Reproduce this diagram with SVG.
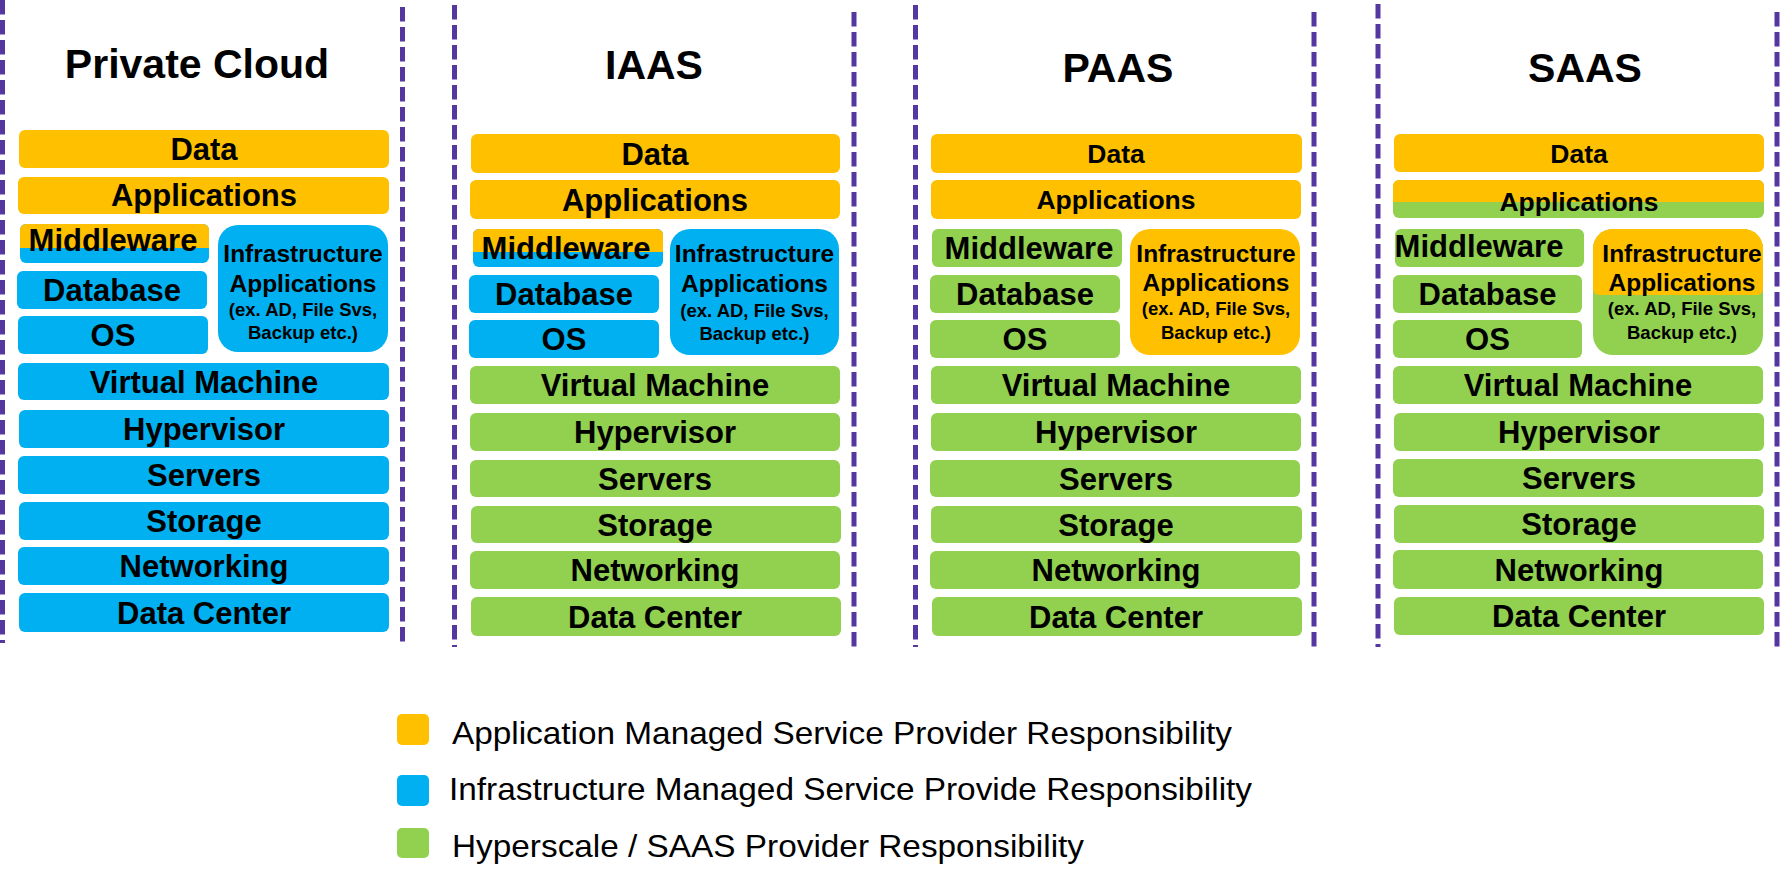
<svg xmlns="http://www.w3.org/2000/svg" width="1786" height="888" viewBox="0 0 1786 888">
<style>
.t{font-family:"Liberation Sans",Arial,sans-serif;font-weight:bold;fill:#000;text-anchor:middle}
.h{font-size:41px}
.l{font-size:31px}
.s{font-size:26.5px}
.i{font-size:24.5px}
.e{font-size:18.5px}
.lg{font-family:"Liberation Sans",Arial,sans-serif;font-size:32px;fill:#000}
.o{fill:#FFC000}
.b{fill:#00B0F0}
.g{fill:#92D050}
.sep{stroke:#5537A0;stroke-width:5;stroke-dasharray:14.5 5.5;fill:none}
</style>
<defs>
<clipPath id="cMwP"><rect x="20" y="224" width="189" height="39" rx="6"/></clipPath>
<clipPath id="cMwI"><rect x="473" y="229" width="190" height="38" rx="6"/></clipPath>
<clipPath id="cApS"><rect x="1393" y="180" width="371" height="38" rx="6"/></clipPath>
<clipPath id="cInS"><rect x="1593" y="229" width="170" height="126" rx="20"/></clipPath>
</defs>
<rect width="1786" height="888" fill="#fff"/>

<g id="separators">
<line class="sep" x1="2.5" y1="0" x2="2.5" y2="643"/>
<line class="sep" x1="402.5" y1="7" x2="402.5" y2="642"/>
<line class="sep" x1="454.5" y1="5" x2="454.5" y2="647"/>
<line class="sep" x1="854" y1="12" x2="854" y2="647"/>
<line class="sep" x1="915.5" y1="5" x2="915.5" y2="647"/>
<line class="sep" x1="1314" y1="12" x2="1314" y2="647"/>
<line class="sep" x1="1378" y1="4" x2="1378" y2="647"/>
<line class="sep" x1="1777" y1="12" x2="1777" y2="647"/>
</g>

<!-- Private Cloud -->
<g id="private-cloud">
<text class="t h" x="197" y="78">Private Cloud</text>
<g id="p-data"><rect class="o" x="19" y="130" width="370" height="38" rx="6"/><text class="t l" x="204" y="160">Data</text></g>
<g id="p-applications"><rect class="o" x="18" y="177" width="371" height="37" rx="6"/><text class="t l" x="204" y="206">Applications</text></g>
<g id="p-middleware"><g clip-path="url(#cMwP)"><rect class="b" x="20" y="224" width="189" height="39"/><rect class="o" x="20" y="224" width="189" height="24"/></g><text class="t l" x="113" y="251">Middleware</text></g>
<g id="p-database"><rect class="b" x="17" y="271" width="190" height="38" rx="6"/><text class="t l" x="112" y="301">Database</text></g>
<g id="p-os"><rect class="b" x="18" y="316" width="190" height="38" rx="6"/><text class="t l" x="113" y="346">OS</text></g>
<g id="p-infra"><rect class="b" x="218" y="225" width="170" height="127" rx="20"/>
<text class="t i" x="303" y="262">Infrastructure</text><text class="t i" x="303" y="292">Applications</text><text class="t e" x="303" y="316">(ex. AD, File Svs,</text><text class="t e" x="303" y="339">Backup etc.)</text></g>
<g id="p-vm"><rect class="b" x="18" y="363" width="371" height="37" rx="6"/><text class="t l" x="204" y="392.5">Virtual Machine</text></g>
<g id="p-hypervisor"><rect class="b" x="19" y="410" width="370" height="38" rx="6"/><text class="t l" x="204" y="440">Hypervisor</text></g>
<g id="p-servers"><rect class="b" x="18" y="456" width="371" height="38" rx="6"/><text class="t l" x="204" y="486">Servers</text></g>
<g id="p-storage"><rect class="b" x="19" y="502" width="370" height="38" rx="6"/><text class="t l" x="204" y="532">Storage</text></g>
<g id="p-networking"><rect class="b" x="18" y="547" width="371" height="38" rx="6"/><text class="t l" x="204" y="577">Networking</text></g>
<g id="p-datacenter"><rect class="b" x="19" y="593" width="370" height="39" rx="6"/><text class="t l" x="204" y="623.5">Data Center</text></g>
</g>

<!-- IAAS -->
<g id="iaas">
<text class="t h" x="654" y="79">IAAS</text>
<g id="i-data"><rect class="o" x="471" y="134" width="369" height="39" rx="6"/><text class="t l" x="655" y="164.5">Data</text></g>
<g id="i-applications"><rect class="o" x="470" y="180" width="370" height="39" rx="6"/><text class="t l" x="655" y="210.5">Applications</text></g>
<g id="i-middleware"><g clip-path="url(#cMwI)"><rect class="b" x="473" y="229" width="190" height="38"/><rect class="o" x="473" y="229" width="190" height="23"/></g><text class="t l" x="566" y="259">Middleware</text></g>
<g id="i-database"><rect class="b" x="469" y="275" width="190" height="38" rx="6"/><text class="t l" x="564" y="305">Database</text></g>
<g id="i-os"><rect class="b" x="469" y="320" width="190" height="38" rx="6"/><text class="t l" x="564" y="350">OS</text></g>
<g id="i-infra"><rect class="b" x="670" y="229" width="169" height="126" rx="20"/>
<text class="t i" x="754.5" y="262">Infrastructure</text><text class="t i" x="754.5" y="292">Applications</text><text class="t e" x="754.5" y="317">(ex. AD, File Svs,</text><text class="t e" x="754.5" y="340">Backup etc.)</text></g>
<g id="i-vm"><rect class="g" x="470" y="366" width="370" height="38" rx="6"/><text class="t l" x="655" y="396">Virtual Machine</text></g>
<g id="i-hypervisor"><rect class="g" x="470" y="413" width="370" height="38" rx="6"/><text class="t l" x="655" y="443">Hypervisor</text></g>
<g id="i-servers"><rect class="g" x="470" y="460" width="370" height="37" rx="6"/><text class="t l" x="655" y="489.5">Servers</text></g>
<g id="i-storage"><rect class="g" x="471" y="506" width="370" height="37" rx="6"/><text class="t l" x="655" y="535.5">Storage</text></g>
<g id="i-networking"><rect class="g" x="470" y="551" width="370" height="38" rx="6"/><text class="t l" x="655" y="581">Networking</text></g>
<g id="i-datacenter"><rect class="g" x="471" y="597" width="370" height="39" rx="6"/><text class="t l" x="655" y="627.5">Data Center</text></g>
</g>

<!-- PAAS -->
<g id="paas">
<text class="t h" x="1118" y="82">PAAS</text>
<g id="a-data"><rect class="o" x="931" y="134" width="371" height="39" rx="6"/><text class="t s" x="1116" y="163">Data</text></g>
<g id="a-applications"><rect class="o" x="931" y="180" width="370" height="39" rx="6"/><text class="t s" x="1116" y="209">Applications</text></g>
<g id="a-middleware"><rect class="g" x="932" y="229" width="190" height="38" rx="6"/><text class="t l" x="1029" y="259">Middleware</text></g>
<g id="a-database"><rect class="g" x="930" y="275" width="190" height="38" rx="6"/><text class="t l" x="1025" y="305">Database</text></g>
<g id="a-os"><rect class="g" x="930" y="320" width="190" height="38" rx="6"/><text class="t l" x="1025" y="350">OS</text></g>
<g id="a-infra"><rect class="o" x="1130" y="229" width="170" height="126" rx="20"/>
<text class="t i" x="1216" y="262">Infrastructure</text><text class="t i" x="1216" y="291">Applications</text><text class="t e" x="1216" y="315">(ex. AD, File Svs,</text><text class="t e" x="1216" y="339">Backup etc.)</text></g>
<g id="a-vm"><rect class="g" x="931" y="366" width="370" height="38" rx="6"/><text class="t l" x="1116" y="396">Virtual Machine</text></g>
<g id="a-hypervisor"><rect class="g" x="931" y="413" width="370" height="38" rx="6"/><text class="t l" x="1116" y="443">Hypervisor</text></g>
<g id="a-servers"><rect class="g" x="930" y="460" width="370" height="37" rx="6"/><text class="t l" x="1116" y="489.5">Servers</text></g>
<g id="a-storage"><rect class="g" x="931" y="506" width="371" height="37" rx="6"/><text class="t l" x="1116" y="535.5">Storage</text></g>
<g id="a-networking"><rect class="g" x="930" y="551" width="370" height="38" rx="6"/><text class="t l" x="1116" y="581">Networking</text></g>
<g id="a-datacenter"><rect class="g" x="932" y="597" width="370" height="39" rx="6"/><text class="t l" x="1116" y="627.5">Data Center</text></g>
</g>

<!-- SAAS -->
<g id="saas">
<text class="t h" x="1585" y="82">SAAS</text>
<g id="s-data"><rect class="o" x="1394" y="134" width="370" height="38" rx="6"/><text class="t s" x="1579" y="162.5">Data</text></g>
<g id="s-applications"><g clip-path="url(#cApS)"><rect class="g" x="1393" y="180" width="371" height="38"/><rect class="o" x="1393" y="180" width="371" height="22"/></g><text class="t s" x="1579" y="211">Applications</text></g>
<g id="s-middleware"><rect class="g" x="1395" y="229" width="189" height="38" rx="6"/><text class="t l" x="1479" y="257">Middleware</text></g>
<g id="s-database"><rect class="g" x="1393" y="275" width="189" height="38" rx="6"/><text class="t l" x="1487.5" y="305">Database</text></g>
<g id="s-os"><rect class="g" x="1393" y="320" width="189" height="38" rx="6"/><text class="t l" x="1487.5" y="350">OS</text></g>
<g id="s-infra"><g clip-path="url(#cInS)"><rect class="g" x="1593" y="229" width="170" height="126"/><rect class="o" x="1593" y="229" width="170" height="66" rx="6"/><rect class="o" x="1593" y="229" width="170" height="50"/></g>
<text class="t i" x="1682" y="262">Infrastructure</text><text class="t i" x="1682" y="291">Applications</text><text class="t e" x="1682" y="315">(ex. AD, File Svs,</text><text class="t e" x="1682" y="339">Backup etc.)</text></g>
<g id="s-vm"><rect class="g" x="1393" y="366" width="370" height="38" rx="6"/><text class="t l" x="1578" y="396">Virtual Machine</text></g>
<g id="s-hypervisor"><rect class="g" x="1394" y="413" width="370" height="38" rx="6"/><text class="t l" x="1579" y="443">Hypervisor</text></g>
<g id="s-servers"><rect class="g" x="1393" y="459" width="370" height="38" rx="6"/><text class="t l" x="1579" y="489">Servers</text></g>
<g id="s-storage"><rect class="g" x="1394" y="505" width="370" height="38" rx="6"/><text class="t l" x="1579" y="535">Storage</text></g>
<g id="s-networking"><rect class="g" x="1393" y="550" width="370" height="39" rx="6"/><text class="t l" x="1579" y="580.5">Networking</text></g>
<g id="s-datacenter"><rect class="g" x="1394" y="597" width="370" height="38" rx="6"/><text class="t l" x="1579" y="627">Data Center</text></g>
</g>

<!-- Legend -->
<g id="legend">
<g id="legend-app"><rect class="o" x="397" y="714" width="32" height="31" rx="5"/><text class="lg" x="452" y="744" textLength="780" lengthAdjust="spacingAndGlyphs">Application Managed Service Provider Responsibility</text></g>
<g id="legend-infra"><rect class="b" x="397" y="775" width="32" height="31" rx="5"/><text class="lg" x="449" y="800" textLength="803" lengthAdjust="spacingAndGlyphs">Infrastructure Managed Service Provide Responsibility</text></g>
<g id="legend-hyper"><rect class="g" x="397" y="828" width="32" height="30" rx="5"/><text class="lg" x="452" y="857" textLength="632" lengthAdjust="spacingAndGlyphs">Hyperscale / SAAS Provider Responsibility</text></g>
</g>
</svg>
